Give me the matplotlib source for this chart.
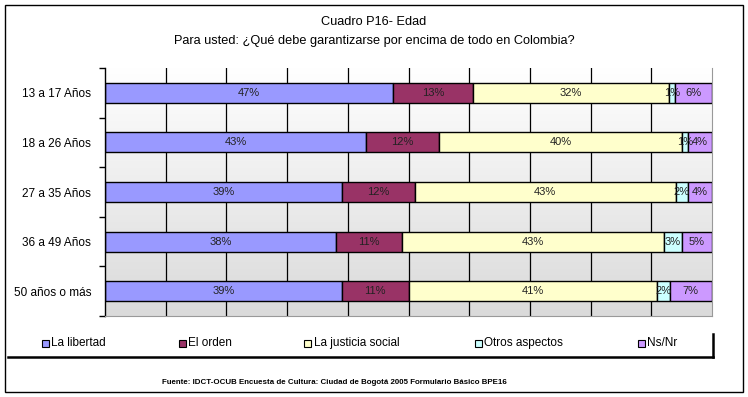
import numpy as np
import matplotlib.pyplot as plt
from matplotlib.colors import LinearSegmentedColormap
from matplotlib.patches import Rectangle
from matplotlib.lines import Line2D

plt.rcParams["font.family"] = ["Liberation Sans", "DejaVu Sans"]

groups = ["13 a 17 Años", "18 a 26 Años", "27 a 35 Años", "36 a 49 Años", "50 años o más"]
series = ["La libertad", "El orden", "La justicia social", "Otros aspectos", "Ns/Nr"]
colors = ["#9999FF", "#993366", "#FFFFCC", "#CCFFFF", "#CC99FF"]

libertad = [47, 43, 39, 38, 39]
orden = [13, 12, 12, 11, 11]
justicia = [32, 40, 43, 43, 41]
otros = [1, 1, 2, 3, 2]
nsnr = [6, 4, 4, 5, 7]

values = np.array([libertad, orden, justicia, otros, nsnr], dtype=float)
shares = values / values.sum(axis=0) * 100  # 100% stacked

fig = plt.figure(figsize=(7.48, 3.97), dpi=100)
ax = fig.add_axes([0.1404, 0.204, 0.952 - 0.1404, 0.8287 - 0.204])

n = len(groups)
y = np.arange(n)
ax.set_ylim(n - 0.5, -0.5)
ax.set_xlim(0, 100)

# gradient background, white at top to light grey at bottom
grad = LinearSegmentedColormap.from_list("bg", ["#FFFFFF", "#DADADA"])
ax.imshow(np.linspace(0, 1, 256).reshape(-1, 1), cmap=grad, aspect="auto",
          extent=[0, 100, n - 0.5, -0.5], zorder=0)

# vertical gridlines
for gx in range(10, 100, 10):
    ax.axvline(gx, color="black", linewidth=0.9, zorder=1)

left = np.zeros(n)
for i, name in enumerate(series):
    ax.barh(y, shares[i], left=left, height=0.4, color=colors[i],
            edgecolor="black", linewidth=1.0, zorder=2, label=name)
    for j in range(n):
        ax.text(left[j] + shares[i][j] / 2, y[j], f"{int(values[i][j])}%",
                ha="center", va="center", fontsize=8, color="#222222", zorder=3)
    left += shares[i]

ax.set_yticks(y)
ax.set_yticklabels(groups, fontsize=8.5)
ax.set_yticks(np.arange(-0.5, n, 1), minor=True)
ax.tick_params(axis="y", which="major", length=0, pad=10)
ax.tick_params(axis="y", which="minor", length=4, width=1, color="black", direction="out")
ax.set_xticks([])
ax.spines["top"].set_visible(False)
ax.spines["right"].set_color("#999999")
ax.spines["bottom"].set_color("#999999")
ax.spines["left"].set_color("black")
ax.spines["left"].set_linewidth(1.0)

# titles
fig.text(0.5, 1 - 22 / 397, "Cuadro P16- Edad", ha="center", va="center", fontsize=9.2)
fig.text(0.5, 1 - 41 / 397, "Para usted: ¿Qué debe garantizarse por encima de todo en Colombia?",
         ha="center", va="center", fontsize=9.2)

# legend, drawn by hand to match the spacing
leg_x = [45, 182, 308, 478, 641]
ly = 1 - 343 / 397
for px, name, c in zip(leg_x, series, colors):
    fig.patches.append(Rectangle((px / 748 - 3.5 / 748, ly - 3.5 / 397), 7 / 748, 7 / 397,
                                 transform=fig.transFigure, facecolor=c,
                                 edgecolor="black", linewidth=0.8))
    fig.text(px / 748 + 6 / 748, ly, name, ha="left", va="center", fontsize=8.5)
fig.lines.append(Line2D([8 / 748, 713 / 748], [1 - 357 / 397, 1 - 357 / 397],
                        transform=fig.transFigure, color="black", linewidth=1.8))
fig.lines.append(Line2D([713 / 748, 713 / 748], [1 - 357 / 397, 1 - 334 / 397],
                        transform=fig.transFigure, color="black", linewidth=1.8))

fig.text(162 / 748, 1 - 383 / 397,
         "Fuente: IDCT-OCUB Encuesta de Cultura: Ciudad de Bogotá 2005 Formulario Básico BPE16",
         ha="left", va="center", fontsize=5.7, fontweight="bold")

# outer frame
fig.patches.append(Rectangle((5 / 748, 5 / 397), 738 / 748, 387 / 397,
                             transform=fig.transFigure, fill=False,
                             edgecolor="black", linewidth=1.0))

fig.savefig("out.png", dpi=100)
